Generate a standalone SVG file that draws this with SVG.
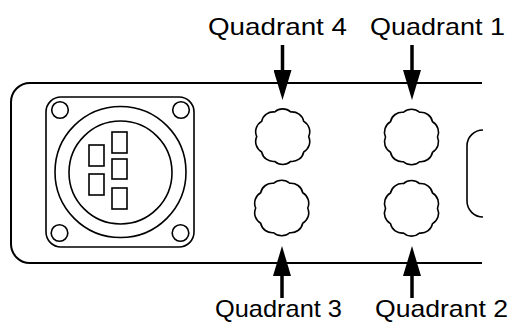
<svg xmlns="http://www.w3.org/2000/svg" xmlns:xlink="http://www.w3.org/1999/xlink" width="514" height="323" viewBox="0 0 514 323">
<style>
.ln{fill:none;stroke:#000;stroke-width:2}
.thin{fill:none;stroke:#000;stroke-width:1.6}
.arr{stroke:#000;stroke-width:3.5;fill:none}
.lbl{font-family:"Liberation Sans",Arial,sans-serif;font-size:24px;fill:#000}
</style>
<defs>
<marker id="ah" viewBox="0 0 30 18" markerWidth="30" markerHeight="18" refX="20" refY="9" orient="auto" markerUnits="userSpaceOnUse">
<path d="M0,0 L30,9 L0,18 Z" fill="#000"/>
</marker>
<path id="knob" class="thin" d="M26,0 A12,12 0 0 1 21.03,15.28 A12,12 0 0 1 8.03,24.73 A12,12 0 0 1 -8.03,24.73 A12,12 0 0 1 -21.03,15.28 A12,12 0 0 1 -26,0 A12,12 0 0 1 -21.03,-15.28 A12,12 0 0 1 -8.03,-24.73 A12,12 0 0 1 8.03,-24.73 A12,12 0 0 1 21.03,-15.28 A12,12 0 0 1 26,0 Z"/>
</defs>
<rect width="514" height="323" fill="#fff"/>
<g id="panel">
<path class="ln" d="M482,83 H30 A19,19 0 0 0 11,102 V244 A19,19 0 0 0 30,263 H482"/>
<path class="thin" d="M483,130 A16,16 0 0 0 467,146 V201 A16,16 0 0 0 483,217"/>
</g>
<g id="connector">
<rect class="thin" x="46" y="97" width="148" height="150" rx="15"/>
<circle class="thin" cx="60" cy="110" r="8.3"/>
<circle class="thin" cx="181" cy="110" r="8.3"/>
<circle class="thin" cx="59.5" cy="233" r="8.3"/>
<circle class="thin" cx="180.5" cy="233" r="8.3"/>
<circle class="thin" cx="120.5" cy="172" r="65.5"/>
<circle class="thin" cx="120.5" cy="172.5" r="51.5"/>
<rect class="thin" x="89" y="145" width="15" height="21"/>
<rect class="thin" x="89" y="174" width="15" height="21"/>
<rect class="thin" x="112" y="132" width="15" height="21"/>
<rect class="thin" x="112" y="159" width="15" height="20"/>
<rect class="thin" x="112" y="188" width="15" height="21"/>
</g>
<g id="knob-q4"><use xlink:href="#knob" href="#knob" transform="translate(282.7,136.7)"/></g>
<g id="knob-q1"><use xlink:href="#knob" href="#knob" transform="translate(411.5,137)"/></g>
<g id="knob-q3"><use xlink:href="#knob" href="#knob" transform="translate(281.7,208)"/></g>
<g id="knob-q2"><use xlink:href="#knob" href="#knob" transform="translate(411.5,208.3)"/></g>
<g id="connectors">
<line class="arr" x1="282.5" y1="45" x2="282.5" y2="90" marker-end="url(#ah)"/>
<line class="arr" x1="412" y1="45" x2="412" y2="90" marker-end="url(#ah)"/>
<line class="arr" x1="282" y1="298" x2="282" y2="256" marker-end="url(#ah)"/>
<line class="arr" x1="412" y1="298" x2="412" y2="256" marker-end="url(#ah)"/>
</g>
<g id="labels">
<text class="lbl" x="208" y="35" textLength="139" lengthAdjust="spacingAndGlyphs">Quadrant 4</text>
<text class="lbl" x="370" y="35" textLength="135" lengthAdjust="spacingAndGlyphs">Quadrant 1</text>
<text class="lbl" x="215" y="317" textLength="127" lengthAdjust="spacingAndGlyphs">Quadrant 3</text>
<text class="lbl" x="375" y="317" textLength="133" lengthAdjust="spacingAndGlyphs">Quadrant 2</text>
</g>
</svg>
